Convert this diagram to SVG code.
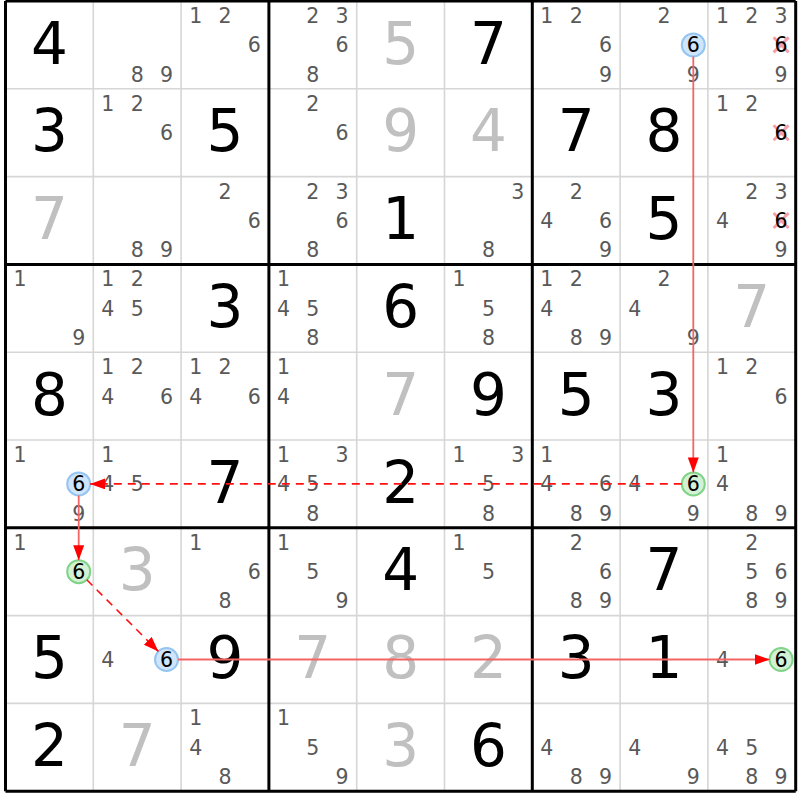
<svg xmlns="http://www.w3.org/2000/svg" width="800" height="800" viewBox="0 0 800 800">
<style>
text{font-family:"DejaVu Sans","Liberation Sans",sans-serif;text-anchor:middle}
.c{font-size:20.5px;fill:#595959}
.k{font-size:20.5px;fill:#000}
.g{font-size:58px;fill:#000}
.s{font-size:58px;fill:#c0c0c0}
.thin{stroke:#d6d6d6;stroke-width:1.6}
.thick{stroke:#000;stroke-width:3}
.cb{fill:#cfe5fb;stroke:#94c4f2;stroke-width:2}
.cg{fill:#d3f1d3;stroke:#80d488;stroke-width:2}
.x{stroke:#f4a0a8;stroke-width:3}
.solid{stroke:#f46464;stroke-width:1.8;fill:none}
.dash{stroke:#ff1010;stroke-width:1.6;fill:none;stroke-dasharray:8 6}
</style>
<defs>
<marker id="ah" markerUnits="userSpaceOnUse" markerWidth="16" markerHeight="12" refX="15" refY="5.5" orient="auto">
<path d="M0,0 L15,5.5 L0,11 z" fill="#ff0000"/>
</marker>
</defs>
<rect width="800" height="800" fill="#fff"/>
<g id="grid">
<path class="thin" d="M93.3,1V791.2M181.1,1V791.2M356.7,1V791.2M444.5,1V791.2M620.1,1V791.2M707.9,1V791.2M5.5,88.8H795.7M5.5,176.6H795.7M5.5,352.2H795.7M5.5,440H795.7M5.5,615.6H795.7M5.5,703.4H795.7"/>
<path class="thick" d="M5.5,1V791.2M268.9,1V791.2M532.3,1V791.2M795.7,1V791.2M5.5,1H795.7M5.5,264.4H795.7M5.5,527.8H795.7M5.5,791.2H795.7"/>
</g>
<!-- Row 1 -->
<g id="r1c1" transform="translate(5.5,1)"><text class="g" x="43.9" y="62.5">4</text></g>
<g id="r1c2" transform="translate(93.3,1)"><text class="c" x="43.9" y="80.7">8</text><text class="c" x="73.2" y="80.7">9</text></g>
<g id="r1c3" transform="translate(181.1,1)"><text class="c" x="14.6" y="22.1">1</text><text class="c" x="43.9" y="22.1">2</text><text class="c" x="73.2" y="51.4">6</text></g>
<g id="r1c4" transform="translate(268.9,1)"><text class="c" x="43.9" y="22.1">2</text><text class="c" x="73.2" y="22.1">3</text><text class="c" x="73.2" y="51.4">6</text><text class="c" x="43.9" y="80.7">8</text></g>
<g id="r1c5" transform="translate(356.7,1)"><text class="s" x="43.9" y="62.5">5</text></g>
<g id="r1c6" transform="translate(444.5,1)"><text class="g" x="43.9" y="62.5">7</text></g>
<g id="r1c7" transform="translate(532.3,1)"><text class="c" x="14.6" y="22.1">1</text><text class="c" x="43.9" y="22.1">2</text><text class="c" x="73.2" y="51.4">6</text><text class="c" x="73.2" y="80.7">9</text></g>
<g id="r1c8" transform="translate(620.1,1)"><text class="c" x="43.9" y="22.1">2</text><circle class="cb" cx="73.2" cy="43.9" r="11.5"/><text class="k" x="73.2" y="51.4">6</text><text class="c" x="73.2" y="80.7">9</text></g>
<g id="r1c9" transform="translate(707.9,1)"><text class="c" x="14.6" y="22.1">1</text><text class="c" x="43.9" y="22.1">2</text><text class="c" x="73.2" y="22.1">3</text><path class="x" d="M65.7,36.4L80.7,51.4M80.7,36.4L65.7,51.4"/><text class="k" x="73.2" y="51.4">6</text><text class="c" x="73.2" y="80.7">9</text></g>
<!-- Row 2 -->
<g id="r2c1" transform="translate(5.5,88.8)"><text class="g" x="43.9" y="62.5">3</text></g>
<g id="r2c2" transform="translate(93.3,88.8)"><text class="c" x="14.6" y="22.1">1</text><text class="c" x="43.9" y="22.1">2</text><text class="c" x="73.2" y="51.4">6</text></g>
<g id="r2c3" transform="translate(181.1,88.8)"><text class="g" x="43.9" y="62.5">5</text></g>
<g id="r2c4" transform="translate(268.9,88.8)"><text class="c" x="43.9" y="22.1">2</text><text class="c" x="73.2" y="51.4">6</text></g>
<g id="r2c5" transform="translate(356.7,88.8)"><text class="s" x="43.9" y="62.5">9</text></g>
<g id="r2c6" transform="translate(444.5,88.8)"><text class="s" x="43.9" y="62.5">4</text></g>
<g id="r2c7" transform="translate(532.3,88.8)"><text class="g" x="43.9" y="62.5">7</text></g>
<g id="r2c8" transform="translate(620.1,88.8)"><text class="g" x="43.9" y="62.5">8</text></g>
<g id="r2c9" transform="translate(707.9,88.8)"><text class="c" x="14.6" y="22.1">1</text><text class="c" x="43.9" y="22.1">2</text><path class="x" d="M65.7,36.4L80.7,51.4M80.7,36.4L65.7,51.4"/><text class="k" x="73.2" y="51.4">6</text></g>
<!-- Row 3 -->
<g id="r3c1" transform="translate(5.5,176.6)"><text class="s" x="43.9" y="62.5">7</text></g>
<g id="r3c2" transform="translate(93.3,176.6)"><text class="c" x="43.9" y="80.7">8</text><text class="c" x="73.2" y="80.7">9</text></g>
<g id="r3c3" transform="translate(181.1,176.6)"><text class="c" x="43.9" y="22.1">2</text><text class="c" x="73.2" y="51.4">6</text></g>
<g id="r3c4" transform="translate(268.9,176.6)"><text class="c" x="43.9" y="22.1">2</text><text class="c" x="73.2" y="22.1">3</text><text class="c" x="73.2" y="51.4">6</text><text class="c" x="43.9" y="80.7">8</text></g>
<g id="r3c5" transform="translate(356.7,176.6)"><text class="g" x="43.9" y="62.5">1</text></g>
<g id="r3c6" transform="translate(444.5,176.6)"><text class="c" x="73.2" y="22.1">3</text><text class="c" x="43.9" y="80.7">8</text></g>
<g id="r3c7" transform="translate(532.3,176.6)"><text class="c" x="43.9" y="22.1">2</text><text class="c" x="14.6" y="51.4">4</text><text class="c" x="73.2" y="51.4">6</text><text class="c" x="73.2" y="80.7">9</text></g>
<g id="r3c8" transform="translate(620.1,176.6)"><text class="g" x="43.9" y="62.5">5</text></g>
<g id="r3c9" transform="translate(707.9,176.6)"><text class="c" x="43.9" y="22.1">2</text><text class="c" x="73.2" y="22.1">3</text><text class="c" x="14.6" y="51.4">4</text><path class="x" d="M65.7,36.4L80.7,51.4M80.7,36.4L65.7,51.4"/><text class="k" x="73.2" y="51.4">6</text><text class="c" x="73.2" y="80.7">9</text></g>
<!-- Row 4 -->
<g id="r4c1" transform="translate(5.5,264.4)"><text class="c" x="14.6" y="22.1">1</text><text class="c" x="73.2" y="80.7">9</text></g>
<g id="r4c2" transform="translate(93.3,264.4)"><text class="c" x="14.6" y="22.1">1</text><text class="c" x="43.9" y="22.1">2</text><text class="c" x="14.6" y="51.4">4</text><text class="c" x="43.9" y="51.4">5</text></g>
<g id="r4c3" transform="translate(181.1,264.4)"><text class="g" x="43.9" y="62.5">3</text></g>
<g id="r4c4" transform="translate(268.9,264.4)"><text class="c" x="14.6" y="22.1">1</text><text class="c" x="14.6" y="51.4">4</text><text class="c" x="43.9" y="51.4">5</text><text class="c" x="43.9" y="80.7">8</text></g>
<g id="r4c5" transform="translate(356.7,264.4)"><text class="g" x="43.9" y="62.5">6</text></g>
<g id="r4c6" transform="translate(444.5,264.4)"><text class="c" x="14.6" y="22.1">1</text><text class="c" x="43.9" y="51.4">5</text><text class="c" x="43.9" y="80.7">8</text></g>
<g id="r4c7" transform="translate(532.3,264.4)"><text class="c" x="14.6" y="22.1">1</text><text class="c" x="43.9" y="22.1">2</text><text class="c" x="14.6" y="51.4">4</text><text class="c" x="43.9" y="80.7">8</text><text class="c" x="73.2" y="80.7">9</text></g>
<g id="r4c8" transform="translate(620.1,264.4)"><text class="c" x="43.9" y="22.1">2</text><text class="c" x="14.6" y="51.4">4</text><text class="c" x="73.2" y="80.7">9</text></g>
<g id="r4c9" transform="translate(707.9,264.4)"><text class="s" x="43.9" y="62.5">7</text></g>
<!-- Row 5 -->
<g id="r5c1" transform="translate(5.5,352.2)"><text class="g" x="43.9" y="62.5">8</text></g>
<g id="r5c2" transform="translate(93.3,352.2)"><text class="c" x="14.6" y="22.1">1</text><text class="c" x="43.9" y="22.1">2</text><text class="c" x="14.6" y="51.4">4</text><text class="c" x="73.2" y="51.4">6</text></g>
<g id="r5c3" transform="translate(181.1,352.2)"><text class="c" x="14.6" y="22.1">1</text><text class="c" x="43.9" y="22.1">2</text><text class="c" x="14.6" y="51.4">4</text><text class="c" x="73.2" y="51.4">6</text></g>
<g id="r5c4" transform="translate(268.9,352.2)"><text class="c" x="14.6" y="22.1">1</text><text class="c" x="14.6" y="51.4">4</text></g>
<g id="r5c5" transform="translate(356.7,352.2)"><text class="s" x="43.9" y="62.5">7</text></g>
<g id="r5c6" transform="translate(444.5,352.2)"><text class="g" x="43.9" y="62.5">9</text></g>
<g id="r5c7" transform="translate(532.3,352.2)"><text class="g" x="43.9" y="62.5">5</text></g>
<g id="r5c8" transform="translate(620.1,352.2)"><text class="g" x="43.9" y="62.5">3</text></g>
<g id="r5c9" transform="translate(707.9,352.2)"><text class="c" x="14.6" y="22.1">1</text><text class="c" x="43.9" y="22.1">2</text><text class="c" x="73.2" y="51.4">6</text></g>
<!-- Row 6 -->
<g id="r6c1" transform="translate(5.5,440)"><text class="c" x="14.6" y="22.1">1</text><circle class="cb" cx="73.2" cy="43.9" r="11.5"/><text class="k" x="73.2" y="51.4">6</text><text class="c" x="73.2" y="80.7">9</text></g>
<g id="r6c2" transform="translate(93.3,440)"><text class="c" x="14.6" y="22.1">1</text><text class="c" x="14.6" y="51.4">4</text><text class="c" x="43.9" y="51.4">5</text></g>
<g id="r6c3" transform="translate(181.1,440)"><text class="g" x="43.9" y="62.5">7</text></g>
<g id="r6c4" transform="translate(268.9,440)"><text class="c" x="14.6" y="22.1">1</text><text class="c" x="73.2" y="22.1">3</text><text class="c" x="14.6" y="51.4">4</text><text class="c" x="43.9" y="51.4">5</text><text class="c" x="43.9" y="80.7">8</text></g>
<g id="r6c5" transform="translate(356.7,440)"><text class="g" x="43.9" y="62.5">2</text></g>
<g id="r6c6" transform="translate(444.5,440)"><text class="c" x="14.6" y="22.1">1</text><text class="c" x="73.2" y="22.1">3</text><text class="c" x="43.9" y="51.4">5</text><text class="c" x="43.9" y="80.7">8</text></g>
<g id="r6c7" transform="translate(532.3,440)"><text class="c" x="14.6" y="22.1">1</text><text class="c" x="14.6" y="51.4">4</text><text class="c" x="73.2" y="51.4">6</text><text class="c" x="43.9" y="80.7">8</text><text class="c" x="73.2" y="80.7">9</text></g>
<g id="r6c8" transform="translate(620.1,440)"><text class="c" x="14.6" y="51.4">4</text><circle class="cg" cx="73.2" cy="43.9" r="11.5"/><text class="k" x="73.2" y="51.4">6</text><text class="c" x="73.2" y="80.7">9</text></g>
<g id="r6c9" transform="translate(707.9,440)"><text class="c" x="14.6" y="22.1">1</text><text class="c" x="14.6" y="51.4">4</text><text class="c" x="43.9" y="80.7">8</text><text class="c" x="73.2" y="80.7">9</text></g>
<!-- Row 7 -->
<g id="r7c1" transform="translate(5.5,527.8)"><text class="c" x="14.6" y="22.1">1</text><circle class="cg" cx="73.2" cy="43.9" r="11.5"/><text class="k" x="73.2" y="51.4">6</text></g>
<g id="r7c2" transform="translate(93.3,527.8)"><text class="s" x="43.9" y="62.5">3</text></g>
<g id="r7c3" transform="translate(181.1,527.8)"><text class="c" x="14.6" y="22.1">1</text><text class="c" x="73.2" y="51.4">6</text><text class="c" x="43.9" y="80.7">8</text></g>
<g id="r7c4" transform="translate(268.9,527.8)"><text class="c" x="14.6" y="22.1">1</text><text class="c" x="43.9" y="51.4">5</text><text class="c" x="73.2" y="80.7">9</text></g>
<g id="r7c5" transform="translate(356.7,527.8)"><text class="g" x="43.9" y="62.5">4</text></g>
<g id="r7c6" transform="translate(444.5,527.8)"><text class="c" x="14.6" y="22.1">1</text><text class="c" x="43.9" y="51.4">5</text></g>
<g id="r7c7" transform="translate(532.3,527.8)"><text class="c" x="43.9" y="22.1">2</text><text class="c" x="73.2" y="51.4">6</text><text class="c" x="43.9" y="80.7">8</text><text class="c" x="73.2" y="80.7">9</text></g>
<g id="r7c8" transform="translate(620.1,527.8)"><text class="g" x="43.9" y="62.5">7</text></g>
<g id="r7c9" transform="translate(707.9,527.8)"><text class="c" x="43.9" y="22.1">2</text><text class="c" x="43.9" y="51.4">5</text><text class="c" x="73.2" y="51.4">6</text><text class="c" x="43.9" y="80.7">8</text><text class="c" x="73.2" y="80.7">9</text></g>
<!-- Row 8 -->
<g id="r8c1" transform="translate(5.5,615.6)"><text class="g" x="43.9" y="62.5">5</text></g>
<g id="r8c2" transform="translate(93.3,615.6)"><text class="c" x="14.6" y="51.4">4</text><circle class="cb" cx="73.2" cy="43.9" r="11.5"/><text class="k" x="73.2" y="51.4">6</text></g>
<g id="r8c3" transform="translate(181.1,615.6)"><text class="g" x="43.9" y="62.5">9</text></g>
<g id="r8c4" transform="translate(268.9,615.6)"><text class="s" x="43.9" y="62.5">7</text></g>
<g id="r8c5" transform="translate(356.7,615.6)"><text class="s" x="43.9" y="62.5">8</text></g>
<g id="r8c6" transform="translate(444.5,615.6)"><text class="s" x="43.9" y="62.5">2</text></g>
<g id="r8c7" transform="translate(532.3,615.6)"><text class="g" x="43.9" y="62.5">3</text></g>
<g id="r8c8" transform="translate(620.1,615.6)"><text class="g" x="43.9" y="62.5">1</text></g>
<g id="r8c9" transform="translate(707.9,615.6)"><text class="c" x="14.6" y="51.4">4</text><circle class="cg" cx="73.2" cy="43.9" r="11.5"/><text class="k" x="73.2" y="51.4">6</text></g>
<!-- Row 9 -->
<g id="r9c1" transform="translate(5.5,703.4)"><text class="g" x="43.9" y="62.5">2</text></g>
<g id="r9c2" transform="translate(93.3,703.4)"><text class="s" x="43.9" y="62.5">7</text></g>
<g id="r9c3" transform="translate(181.1,703.4)"><text class="c" x="14.6" y="22.1">1</text><text class="c" x="14.6" y="51.4">4</text><text class="c" x="43.9" y="80.7">8</text></g>
<g id="r9c4" transform="translate(268.9,703.4)"><text class="c" x="14.6" y="22.1">1</text><text class="c" x="43.9" y="51.4">5</text><text class="c" x="73.2" y="80.7">9</text></g>
<g id="r9c5" transform="translate(356.7,703.4)"><text class="s" x="43.9" y="62.5">3</text></g>
<g id="r9c6" transform="translate(444.5,703.4)"><text class="g" x="43.9" y="62.5">6</text></g>
<g id="r9c7" transform="translate(532.3,703.4)"><text class="c" x="14.6" y="51.4">4</text><text class="c" x="43.9" y="80.7">8</text><text class="c" x="73.2" y="80.7">9</text></g>
<g id="r9c8" transform="translate(620.1,703.4)"><text class="c" x="14.6" y="51.4">4</text><text class="c" x="73.2" y="80.7">9</text></g>
<g id="r9c9" transform="translate(707.9,703.4)"><text class="c" x="14.6" y="51.4">4</text><text class="c" x="43.9" y="51.4">5</text><text class="c" x="43.9" y="80.7">8</text><text class="c" x="73.2" y="80.7">9</text></g>
<g id="connectors">
<path class="solid" d="M693.3,56.4V472.4" marker-end="url(#ah)"/>
<path class="dash" d="M681.8,483.9H90.2" marker-end="url(#ah)"/>
<path class="solid" d="M78.7,495.4V560.2" marker-end="url(#ah)"/>
<path class="dash" d="M86.8,579.8L158.4,651.4" marker-end="url(#ah)"/>
<path class="solid" d="M178,659.5H769.6" marker-end="url(#ah)"/>
</g>
</svg>
